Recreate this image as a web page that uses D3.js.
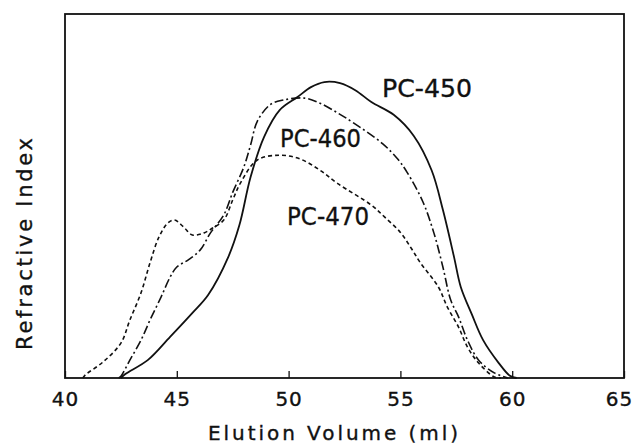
<!DOCTYPE html>
<html lang="en">
<head>
<meta charset="UTF-8">
<title>Refractive Index vs Elution Volume</title>
<script src="https://d3js.org/d3.v7.min.js"></script>
<style>
    body { margin: 0; background: #fff; }
    svg { display: block; }
    text { font-family: "DejaVu Sans", sans-serif; fill: #111; stroke: #111; stroke-width: 0.35; }
</style>
</head>
<body>
<script>
// elution volume (ml), refractive index (arbitrary 0-100)
const pc450 = [[42.5,0],[42.7,1.1],[43.7,4.9],[44.7,11.3],[45.7,17.9],[46.4,22.8],[47.3,33.2],[47.8,42],
    [48.3,55.2],[48.9,66.2],[49.6,73.6],[50.4,77.2],[51.0,79.9],[51.6,81.3],[52.3,81.0],[53.0,79.0],
    [53.7,75.8],[54.7,72.3],[55.6,66.5],[56.4,57.0],[56.9,46.2],[57.4,33.2],[57.7,25.0],[58.2,17.4],
    [58.7,10.4],[59.4,4.1],[59.9,0.6],[60.2,0]];

const pc460 = [[42.4,0],[42.5,0.5],[42.9,4.9],[43.4,10.4],[43.8,15.9],[44.3,22.3],[44.7,27.7],[45.0,30.5],
    [45.5,32.4],[46.05,35.2],[46.5,39.8],[47.1,44.8],[47.5,51],[48.0,58],[48.3,64],[48.6,70.5],[49.2,75.2],
    [49.8,76.4],[50.7,76.9],[51.4,75.5],[52.2,72.8],[52.9,70.1],[54.2,64.4],[54.9,60.0],[55.3,56.5],
    [56.0,48.5],[56.5,39.8],[56.9,30.5],[57.25,21.4],[57.6,16.8],[58.0,10.4],[58.5,4.9],[59.2,1.4],[59.8,0]];

const pc470 = [[40.8,0],[40.9,0.8],[41.7,4.4],[42.5,9.6],[42.9,15.9],[43.4,23.4],[43.8,31.6],[44.2,38.7],
    [44.6,42.6],[44.9,43.4],[45.3,41.5],[45.7,39.3],[46.2,39.8],[46.6,41.2],[47.1,43.4],[47.5,48.9],
    [47.85,53.6],[48.6,59.9],[49.6,61.2],[50.5,60.2],[51.4,57.1],[52.2,53.4],[53.7,47.5],[54.3,44.2],
    [55.0,40.0],[55.5,35.5],[55.9,31.6],[56.7,25.0],[57.1,19.5],[57.6,14.0],[58.0,8.5],[58.5,4.1],
    [59.2,0.3],[59.5,0]];

const xTicks = [40, 45, 50, 55, 60, 65];

const series = [
    { name: "PC-450", data: pc450, dash: null, width: 1.8, lx: 382, ly: 97, len: 90 },
    { name: "PC-460", data: pc460, dash: "9,3,2,3", width: 1.6, lx: 280, ly: 147, len: 81 },
    { name: "PC-470", data: pc470, dash: "4,3", width: 1.6, lx: 287, ly: 225, len: 82 }
];

const width = 634, height = 444;
const plotLeft = 65, plotRight = 624, plotTop = 14, plotBottom = 378;

const svg = d3.select("body").append("svg")
    .attr("width", width)
    .attr("height", height);

const x = d3.scaleLinear().domain([40, 65]).range([plotLeft, plotRight]);
const y = d3.scaleLinear().domain([0, 100]).range([plotBottom, plotTop]);

// x axis with inward ticks
const xAxis = svg.append("g")
    .attr("transform", `translate(0,${plotBottom})`)
    .call(d3.axisBottom(x).tickValues(xTicks).tickSizeInner(-7).tickSizeOuter(0).tickPadding(14));
xAxis.select(".domain").remove();
xAxis.selectAll(".tick line").attr("stroke", "#111").attr("stroke-width", 1.3);
xAxis.selectAll(".tick text")
    .attr("font-size", 20)
    .attr("letter-spacing", 1)
    .attr("x", d => d === 65 ? -5 : 0)
    .style("font-family", '"DejaVu Sans", sans-serif')
    .attr("fill", "#111");

// frame
svg.append("rect")
    .attr("x", plotLeft).attr("y", plotTop)
    .attr("width", plotRight - plotLeft).attr("height", plotBottom - plotTop)
    .attr("fill", "none")
    .attr("stroke", "#111")
    .attr("stroke-width", 1.8);

const line = d3.line()
    .x(d => x(d[0]))
    .y(d => y(d[1]))
    .curve(d3.curveCatmullRom.alpha(0.5));

svg.append("g").selectAll("path")
    .data(series)
    .enter().append("path")
    .attr("d", d => line(d.data))
    .attr("fill", "none")
    .attr("stroke", "#111")
    .attr("stroke-width", d => d.width)
    .attr("stroke-dasharray", d => d.dash);

// curve labels
svg.append("g").selectAll("text")
    .data(series)
    .enter().append("text")
    .attr("x", d => d.lx)
    .attr("y", d => d.ly)
    .attr("font-size", 25)
    .attr("textLength", d => d.len)
    .attr("lengthAdjust", "spacingAndGlyphs")
    .text(d => d.name);

// axis titles
svg.append("text")
    .attr("x", 208)
    .attr("y", 440)
    .attr("font-size", 20)
    .attr("textLength", 250)
    .attr("lengthAdjust", "spacing")
    .text("Elution Volume (ml)");

svg.append("text")
    .attr("transform", "translate(32,244) rotate(-90)")
    .attr("text-anchor", "middle")
    .attr("font-size", 21)
    .attr("textLength", 212)
    .attr("lengthAdjust", "spacing")
    .text("Refractive Index");
</script>
</body>
</html>
